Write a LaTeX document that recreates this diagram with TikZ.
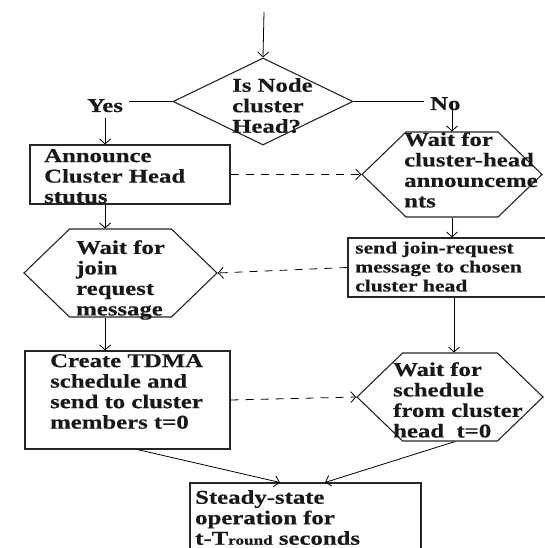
\documentclass[tikz,border=0pt]{standalone}
\usepackage{fontspec}
\setmainfont{Liberation Serif}[FakeStretch=1.27, FakeBold=0.4]
\usetikzlibrary{positioning,calc,shapes.geometric,shapes.symbols,arrows.meta}

\begin{document}
\begin{tikzpicture}[
  x=1pt, y=-1pt,
  font=\fontsize{19.5}{20.5}\selectfont\bfseries,
  box/.style={draw=black!85, line width=1.1pt, inner sep=0pt},
  hexa/.style={box, signal, signal to=west and east, signal pointer angle=88},
  dec/.style={box, diamond},
  txt/.style={anchor=north west, inner sep=0pt, align=left, text=black!90},
  small/.style={txt, font=\fontsize{17}{19}\selectfont\bfseries},
  lab/.style={inner sep=6pt, text=black!90},
  arr/.style={-{Straight Barb[length=5pt,width=11pt]}, line width=0.8pt},
  dsh/.style={arr, dash pattern=on 8pt off 7pt}]

\path[use as bounding box, fill=white] (0,0) rectangle (544,548);

% shapes
\coordinate (start) at (264,12);
\node[dec, minimum width=180pt, minimum height=87pt] (dec) at (263,101.5) {};
\node[box, minimum width=200pt, minimum height=59pt] (ann) at (130,174.5) {};
\node[hexa, minimum width=180pt, minimum height=85pt] (waitch) at (452,174.5) {};
\node[hexa, minimum width=193pt, minimum height=88pt] (waitjr) at (120.5,273) {};
\node[box, minimum width=212pt, minimum height=59pt] (send) at (454,267.5) {};
\node[box, minimum width=205pt, minimum height=98pt] (create) at (127.5,400) {};
\node[hexa, minimum width=186pt, minimum height=88pt] (waitsch) at (450,397) {};
\node[box, minimum width=231pt, minimum height=72pt] (steady) at (305.5,519) {};

% texts
\node[txt] (dectxt) at (232,78) {Is Node\\cluster\\Head?};
\node[txt] (anntxt) at (44,149) {Announce\\Cluster Head\\stutus};
\node[txt] (waitchtxt) at (404,132) {Wait for\\cluster-head\\announceme\\nts};
\node[txt] (waitjrtxt) at (76,240) {Wait for\\join\\request\\message};
\node[small] (sendtxt) at (355,241.5) {send join-request\\message to chosen\\cluster head};
\node[txt] (createtxt) at (50,354) {Create TDMA\\schedule and\\send to cluster\\members t=0};
\node[txt] (waitschtxt) at (393,362) {Wait for\\schedule\\from cluster\\head~ t=0};
\node[txt] (steadytxt) at (195,490) {Steady-state\\operation for\\t-T{\fontsize{13.5}{13.5}\selectfont round} seconds};
\node[lab, anchor=base west] (yes) at (81,112) {Yes};
\node[lab, anchor=base west] (no) at (424,110) {No};

% connectors
\draw[arr] (start) -- (dec.north);
\draw (dec.west) -- (dec.west -| yes.east);
\draw (dec.east) -- (dec.east -| no.west);
\draw[arr] (yes.south) -- (yes.south |- ann.north);
\draw[arr] (waitch.north |- dec.east) -- (waitch.north);
\draw[dsh] (ann.east) -- (waitch.west);
\draw[arr] (yes.south |- ann.south) -- (yes.south |- waitjr.north);
\draw[arr] (waitch.south) -- (waitch.south |- send.north);
\draw[dsh] (send.west) -- (waitjr.east);
\draw[arr] (waitjr.south -| yes.south) -- (create.north -| yes.south);
\draw[arr] (send.south) -- (send.south |- waitsch.north);
\draw[dsh] (create.east) -- (waitsch.west);
\draw[arr] ([xshift=10pt]create.south) -- ([xshift=-25.5pt]steady.north);
\draw[arr] ([xshift=5pt]waitsch.south) -- ([xshift=19.5pt]steady.north);
\end{tikzpicture}
\end{document}
